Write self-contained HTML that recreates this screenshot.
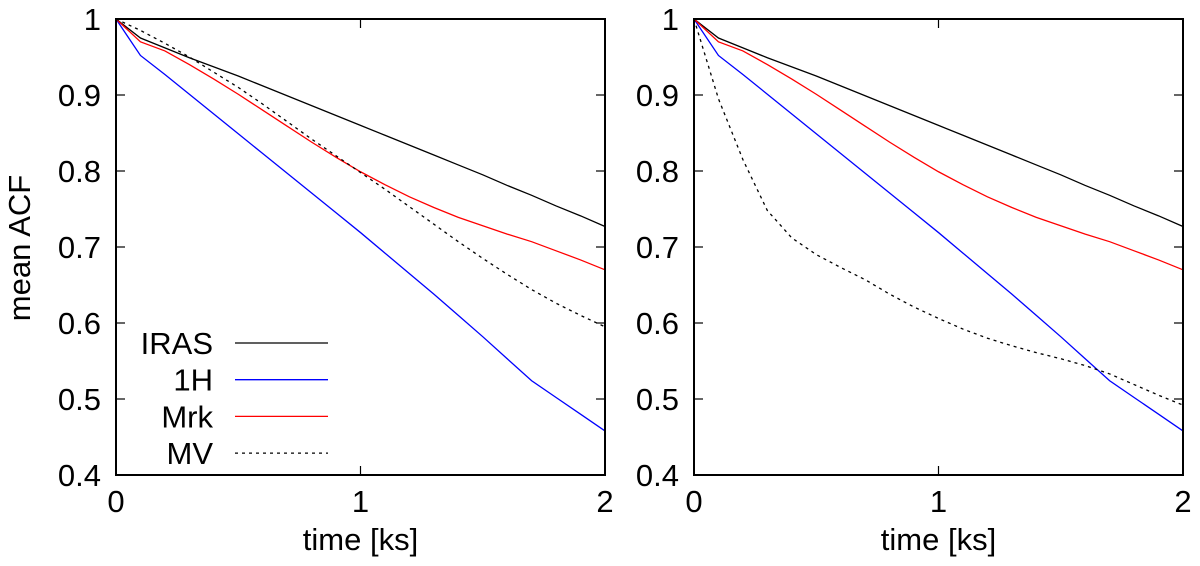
<!DOCTYPE html>
<html><head><meta charset="utf-8"><style>
body{margin:0;background:#fff}
svg text{font-family:"Liberation Sans",sans-serif;font-size:31px;fill:#000}
</style></head><body>
<svg id="c" width="1200" height="561"></svg>
<script>
const times=[0,0.1,0.2,0.3,0.4,0.5,0.6,0.7,0.8,0.9,1.0,1.1,1.2,1.3,1.4,1.5,1.6,1.7,1.8,1.9,2.0];
const iras=[1,.975,.962,.949,.937,.925,.912,.899,.886,.873,.86,.847,.834,.821,.808,.795,.781,.768,.754,.741,.727];
const h1=[1,.952,.927,.901,.875,.849,.823,.797,.771,.745,.719,.692,.665,.638,.610,.582,.553,.524,.502,.48,.458];
const mrk=[1,.97,.958,.94,.921,.901,.88,.859,.838,.818,.799,.782,.766,.752,.739,.728,.717,.707,.695,.683,.67];
const mvLeft=[1,.985,.968,.95,.93,.91,.888,.865,.842,.82,.798,.776,.753,.73,.707,.685,.664,.644,.626,.61,.595];
const mvRight=[1,.895,.815,.748,.712,.69,.673,.657,.638,.621,.606,.592,.58,.57,.561,.553,.544,.533,.519,.505,.492];
const yTicks=[0.4,0.5,0.6,0.7,0.8,0.9,1];
const xTicks=[0,1,2];
const legendNames=["IRAS","1H","Mrk","MV"];
</script>
<script>
(function(){
const NS="http://www.w3.org/2000/svg",svg=document.getElementById('c');
function el(t,a,p){const e=document.createElementNS(NS,t);for(const k in a)e.setAttribute(k,a[k]);(p||svg).appendChild(e);return e;}
const plotTop=19,plotBot=475;
function panel(x0,x1,mv,name,showLegend){
  const g=el('g',{});
  
  
  const X=t=>x0+(x1-x0)*t/2, Y=v=>plotBot-(plotBot-plotTop)*(v-0.4)/0.6;
  yTicks.forEach(v=>{
    const y=Y(v);
    el('line',{x1:x0,x2:x0+9,y1:y,y2:y,stroke:'#000','stroke-width':1.2},g);
    el('line',{x1:x1,x2:x1-9,y1:y,y2:y,stroke:'#000','stroke-width':1.2},g);
    const t=el('text',{x:x0-15,y:y+11,'text-anchor':'end'},g);t.textContent=v===1?'1':v.toFixed(1);
    
    
  });
  xTicks.forEach(v=>{
    const x=X(v);
    el('line',{x1:x,x2:x,y1:plotBot,y2:plotBot-9,stroke:'#000','stroke-width':1.2},g);
    el('line',{x1:x,x2:x,y1:plotTop,y2:plotTop+9,stroke:'#000','stroke-width':1.2},g);
    const t=el('text',{x:x,y:plotBot+37,'text-anchor':'middle'},g);t.textContent=v;
    
    
  });
  const series=[[iras,'#000',''],[h1,'#0000ff',''],[mrk,'#ff0000',''],[mv,'#000','3,4']];
  series.forEach((s,i)=>{
    const p=el('polyline',{points:times.map((t,j)=>X(t)+','+Y(s[0][j])).join(' '),fill:'none',stroke:s[1],'stroke-width':1.3,'stroke-dasharray':s[2]},g);
    
    
    if(showLegend){
      const y=343+i*36.7;
      const t=el('text',{x:213,y:y+11,'text-anchor':'end'},g);t.textContent=legendNames[i];
      
      
      el('line',{x1:235,x2:328,y1:y,y2:y,stroke:s[1],'stroke-width':1.3,'stroke-dasharray':s[2]},g);
    }
  });
  el('rect',{x:x0,y:plotTop,width:x1-x0,height:plotBot-plotTop,fill:'none',stroke:'#000','stroke-width':2},g);
  const xl=el('text',{x:(x0+x1)/2,y:550,'text-anchor':'middle'},g);xl.textContent='time [ks]';
  
  
}
panel(116,605,mvLeft,'left-panel',true);
panel(694,1183,mvRight,'right-panel',false);
const yl=el('text',{x:0,y:0,'text-anchor':'middle',transform:'translate(30,248) rotate(-90)'});
yl.textContent='mean ACF';


})();
</script>
</body></html>
